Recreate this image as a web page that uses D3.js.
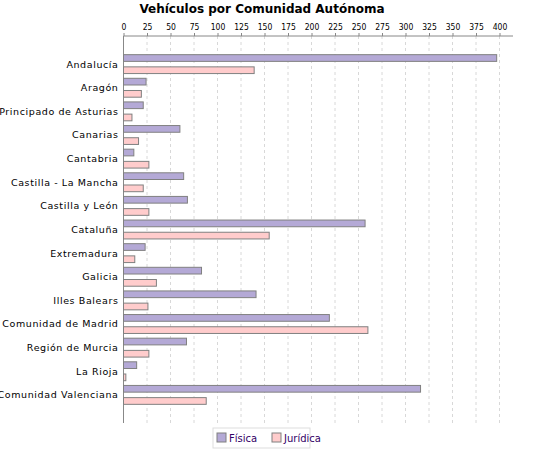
<!DOCTYPE html>
<html><head><meta charset="utf-8">
<script src="https://cdn.jsdelivr.net/npm/d3@7"></script>
<style>body{margin:0;background:#fff;font-family:"DejaVu Sans",sans-serif;}</style>
</head><body><svg id="chart" width="550" height="450"></svg>
<script>
var categories = ["Andalucía","Aragón","Principado de Asturias","Canarias","Cantabria","Castilla - La Mancha","Castilla y León","Cataluña","Extremadura","Galicia","Illes Balears","Comunidad de Madrid","Región de Murcia","La Rioja","Comunidad Valenciana"];
var fisica = [397,24,21,60,11,64,68,257,23,83,141,219,67,14,316];
var juridica = [139,19,9,16,27,21,27,155,12,35,26,260,27,2.5,88];
var seriesNames = ["Física","Jurídica"];
var colors = ["#b4a9d6","#ffcccc"];
var ticks = d3.range(0,401,25);

var svg = d3.select("#chart");
var plotLeft = 123.5, plotRight = 513, plotTop = 36, plotBottom = 423;

var x = d3.scaleLinear().domain([0,400]).range([plotLeft, 499.5]);
var y = d3.scaleBand().domain(categories).range([plotTop,plotBottom]).paddingInner(0.2).paddingOuter(0.79);
var ySub = d3.scaleBand().domain([0,1]).range([0,y.bandwidth()]).paddingInner(0.45);

svg.append("text").attr("x",262).attr("y",13).attr("text-anchor","middle")
  .style("font-weight","bold").style("font-size","12px").text("Vehículos por Comunidad Autónoma");

// grid
svg.selectAll("line.grid").data(ticks.slice(1)).enter().append("line")
  .attr("x1",function(d){return x(d);}).attr("x2",function(d){return x(d);})
  .attr("y1",plotTop).attr("y2",plotBottom)
  .attr("stroke","#d8d8d8").attr("stroke-dasharray","3,3");

// top axis
var ax = svg.append("g").attr("transform","translate(0,"+plotTop+")")
  .call(d3.axisTop(x).tickValues(ticks).tickSize(3).tickPadding(3));
ax.select(".domain").remove();
ax.selectAll("text").style("font-size","8.5px").style("font-family","DejaVu Sans Condensed, sans-serif");
ax.selectAll("line").attr("stroke","#888");
svg.append("line").attr("x1",plotLeft).attr("x2",plotRight).attr("y1",plotTop).attr("y2",plotTop).attr("stroke","#888");
svg.append("line").attr("x1",plotLeft).attr("x2",plotLeft).attr("y1",plotTop).attr("y2",plotBottom).attr("stroke","#888");

var rows = svg.selectAll("g.row").data(categories).enter().append("g")
  .attr("transform",function(d){return "translate(0,"+y(d)+")";});
[fisica, juridica].forEach(function(vals, s){
  rows.append("rect")
    .attr("x",x(0)).attr("y",ySub(s))
    .attr("width",function(d,i){return x(vals[i])-x(0);})
    .attr("height",ySub.bandwidth())
    .attr("fill",colors[s]).attr("stroke","#808080");
});
rows.append("text").attr("x",plotLeft-5).attr("y",y.bandwidth()/2+3.5)
  .attr("text-anchor","end").style("font-size","9.5px").style("letter-spacing","0.6px")
  .text(function(d){return d;});

// legend
var lg = svg.append("g");
lg.append("rect").attr("x",213).attr("y",428).attr("width",97).attr("height",20)
  .attr("fill","#fff").attr("stroke","#ddd");
seriesNames.forEach(function(n,i){
  var lx = 217 + i*55;
  lg.append("rect").attr("x",lx).attr("y",433).attr("width",9).attr("height",9)
    .attr("fill",colors[i]).attr("stroke","#808080");
  lg.append("text").attr("x",lx+12).attr("y",442).style("font-size","10px").attr("fill","#330066").text(n);
});
</script></body></html>
